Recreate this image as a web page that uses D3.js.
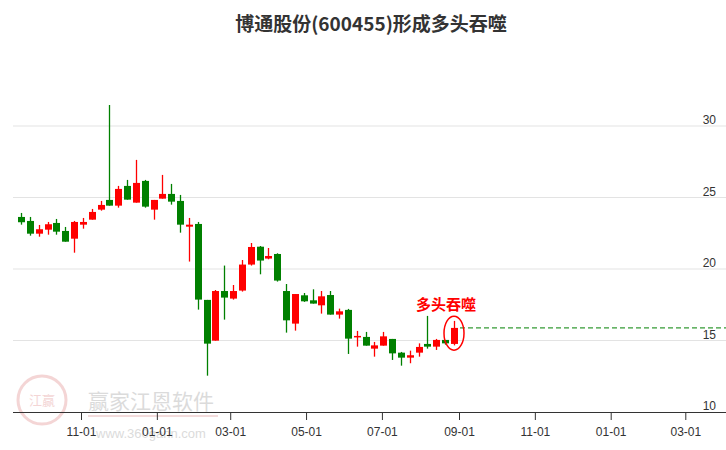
<!DOCTYPE html>
<html><head><meta charset="utf-8">
<script src="https://cdn.jsdelivr.net/npm/d3@7/dist/d3.min.js"></script>
<style>body{margin:0;background:#fff;font-family:"Noto Sans CJK SC",sans-serif}</style>
</head><body><svg id="c" width="726" height="450"></svg>
<script>
const opens  = [23.64,23.36,22.47,22.75,23.22,22.66,22.12,23.10,23.45,24.15,24.83,24.43,25.81,24.64,26.16,24.15,24.92,25.25,24.76,22.96,23.15,17.84,14.99,18.46,17.93,18.49,20.31,21.56,20.73,21.05,18.46,16.18,18.16,17.81,17.46,18.18,16.81,17.14,15.22,15.25,14.43,14.64,15.11,14.15,13.80,14.15,14.76,14.57,15.04,14.76];
const closes = [23.27,22.47,22.78,23.13,22.61,21.91,23.29,23.29,23.99,24.48,24.43,25.60,24.85,26.02,24.36,24.83,25.25,24.71,23.10,23.10,17.86,14.78,18.46,18.00,18.46,20.31,21.54,20.59,20.91,19.19,16.41,18.25,17.74,17.58,18.09,16.81,17.04,15.13,15.32,14.64,14.66,15.29,14.10,13.80,13.97,14.55,14.57,15.04,14.80,15.88];
const highs  = [23.92,23.64,23.08,23.29,23.50,22.94,23.36,23.57,24.20,24.76,31.47,25.81,26.23,27.63,26.23,24.83,26.58,25.95,25.18,23.57,23.29,17.84,18.53,20.24,18.88,20.63,21.82,21.61,21.47,21.10,18.95,18.25,18.32,18.58,18.46,18.46,17.23,17.21,15.67,15.60,14.90,15.60,15.11,14.20,14.29,14.80,16.72,15.11,15.04,16.37];
const lows   = [23.10,22.33,22.26,22.40,22.40,21.91,21.14,22.82,23.45,24.08,24.43,24.29,24.85,24.64,24.29,23.45,24.92,24.50,22.54,20.52,17.16,12.54,14.99,16.46,17.86,18.42,20.24,19.63,20.68,19.12,15.55,15.69,17.70,17.58,16.88,16.81,16.53,14.06,14.57,14.64,13.87,14.64,13.64,13.24,13.41,13.87,14.43,14.34,14.71,14.66];
const yTicks = [10,15,20,25,30];
const xTickDates = ["2022-11-01","2023-01-01","2023-03-01","2023-05-01","2023-07-01","2023-09-01","2023-11-01","2024-01-01","2024-03-01"];
const title = "博通股份(600455)形成多头吞噬";
const signal = "多头吞噬";

const svg = d3.select("#c");
const pd = d3.timeParse("%Y-%m-%d");
const x = d3.scaleTime().domain([pd("2022-11-01"), pd("2023-09-01")]).range([81,459]);
const y = d3.scaleLinear().domain([10,30]).range([412,126]);
const idx = d3.scaleLinear().domain([0, opens.length-1]).range([21,454]);

// watermark
const wm = svg.append("g").attr("opacity",0.35);
wm.append("circle").attr("cx",42).attr("cy",400).attr("r",24).attr("fill","none").attr("stroke","#e08a8a").attr("stroke-width",3);
wm.append("text").attr("x",42).attr("y",405).attr("text-anchor","middle").attr("font-size",13).attr("fill","#e08a8a").text("江赢");
wm.append("text").attr("x",88).attr("y",409).attr("font-size",21).attr("fill","#999").text("赢家江恩软件");
wm.append("line").attr("x1",88).attr("x2",218).attr("y1",416).attr("y2",416).attr("stroke","#d99").attr("stroke-width",2);
wm.append("text").attr("x",96).attr("y",438).attr("font-size",13).attr("fill","#999").attr("font-family","Arial").text("www.360gann.com");

yTicks.filter(t=>t>10).forEach(t=>{
  svg.append("line").attr("x1",13).attr("x2",726).attr("y1",y(t)).attr("y2",y(t)).attr("stroke","#e3e3e3");
});
yTicks.forEach(t=>{
  svg.append("text").attr("x",716).attr("y",y(t)-2).attr("text-anchor","end").attr("font-size",12).attr("fill","#333").attr("font-family","Arial").text(t);
});
const xa = svg.append("g").attr("transform","translate(0,412)")
  .call(d3.axisBottom(x).tickValues(xTickDates.map(pd)).tickFormat(d3.timeFormat("%m-%d")).tickSizeOuter(0).tickSize(8));
xa.select(".domain").attr("d","M13,0.5H726").attr("stroke","#333");
xa.selectAll("line").attr("stroke","#333");
xa.selectAll("text").attr("font-size",12).attr("fill","#333").attr("font-family","Arial").attr("dy","1.1em");

const g = svg.append("g");
opens.forEach((o,i)=>{
  const c = closes[i], col = c>=o ? "#ff0000" : "#008000";
  const xc = Math.round(idx(i))+0.5;
  g.append("line").attr("x1",xc).attr("x2",xc).attr("y1",y(highs[i])).attr("y2",y(lows[i])).attr("stroke",col).attr("stroke-width",1.3);
  const top = y(Math.max(o,c)), bot = y(Math.min(o,c));
  g.append("rect").attr("x",xc-3.5).attr("width",7).attr("y",top).attr("height",Math.max(1.5,bot-top)).attr("fill",col);
});
const li = opens.length-1, lx = idx(li);
svg.append("line").attr("x1",lx+6).attr("x2",726).attr("y1",y(closes[li])).attr("y2",y(closes[li])).attr("stroke","#008000").attr("stroke-dasharray","5,3");
svg.append("ellipse").attr("cx",lx).attr("cy",y((highs[li]+lows[li])/2)).attr("rx",10).attr("ry",17).attr("fill","none").attr("stroke","#ff0000").attr("stroke-width",1.5);
svg.append("text").attr("x",lx-8).attr("y",310).attr("text-anchor","middle").attr("font-size",15).attr("font-weight","bold").attr("fill","#ff0000").text(signal);

svg.append("text").attr("x",371).attr("y",31).attr("text-anchor","middle").attr("font-size",19).attr("font-weight","bold").attr("fill","#333").text(title);
</script></body></html>
